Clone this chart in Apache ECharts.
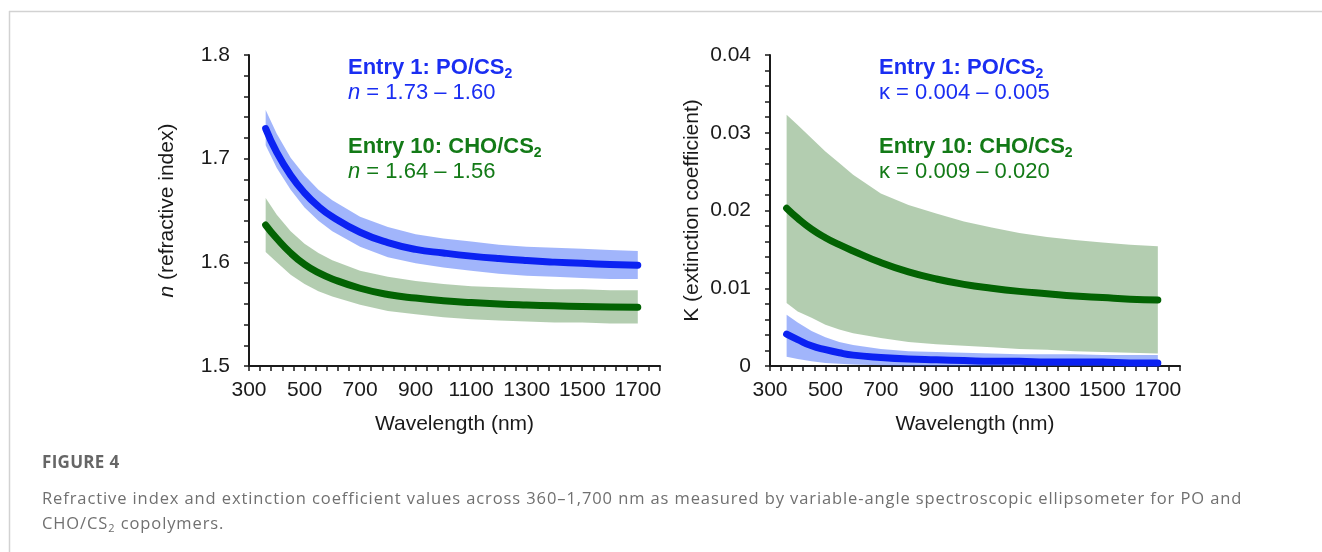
<!DOCTYPE html>
<html>
<head>
<meta charset="utf-8">
<script src="https://cdn.jsdelivr.net/npm/echarts@6/dist/echarts.min.js"></script>
<style>
html, body { margin: 0; padding: 0; background: #fff; }
#chart { position: absolute; left: 0; top: 0; width: 1322px; height: 552px; }
.cap { position: absolute; left: 42px; font-family: "Open Sans", "Noto Sans", sans-serif; color: #707070; white-space: nowrap; }
#fig { top: 450px; font-size: 17px; font-weight: 700; letter-spacing: 0.3px; color: #666; }
#txt { top: 485px; font-size: 16.5px; letter-spacing: 0.9px; line-height: 25px; }
#txt sub { font-size: 11px; vertical-align: -3px; line-height: 0; }
</style>
</head>
<body>
<div id="chart"></div>
<div class="cap" id="fig">FIGURE 4</div>
<div class="cap" id="txt">Refractive index and extinction coefficient values across 360–1,700 nm as measured by variable-angle spectroscopic ellipsometer for PO and<br>CHO/CS<sub>2</sub> copolymers.</div>
<script>
// wavelength grid (nm)
const wavelength = [360, 400, 450, 500, 550, 600, 700, 800, 900, 1000, 1100, 1200, 1300, 1400, 1500, 1600, 1700];

// refractive index n
const nPO     = [1.729, 1.706, 1.684, 1.667, 1.654, 1.644, 1.629, 1.619, 1.6125, 1.609, 1.606, 1.6036, 1.6017, 1.6002, 1.599, 1.598, 1.5972];
const nPOHi   = [1.747, 1.724, 1.701, 1.684, 1.670, 1.660, 1.644, 1.634, 1.627, 1.623, 1.620, 1.617, 1.615, 1.614, 1.613, 1.612, 1.611];
const nPOLo   = [1.713, 1.691, 1.670, 1.653, 1.640, 1.630, 1.615, 1.605, 1.599, 1.595, 1.592, 1.589, 1.587, 1.586, 1.585, 1.584, 1.584];
const nCHO    = [1.636, 1.623, 1.609, 1.598, 1.590, 1.584, 1.575, 1.569, 1.5655, 1.563, 1.5612, 1.5598, 1.5588, 1.558, 1.5574, 1.557, 1.5567];
const nCHOHi  = [1.662, 1.646, 1.630, 1.618, 1.609, 1.602, 1.592, 1.586, 1.582, 1.579, 1.577, 1.576, 1.575, 1.574, 1.574, 1.573, 1.573];
const nCHOLo  = [1.610, 1.600, 1.588, 1.579, 1.572, 1.567, 1.559, 1.553, 1.550, 1.547, 1.545, 1.544, 1.543, 1.542, 1.542, 1.541, 1.541];

// extinction coefficient k
const kPO     = [0.0041, 0.0034, 0.0026, 0.0021, 0.0017, 0.0014, 0.0011, 0.0009, 0.0008, 0.0007, 0.0006, 0.0006, 0.0005, 0.0005, 0.0005, 0.0004, 0.0004];
const kPOHi   = [0.0066, 0.0056, 0.0045, 0.0037, 0.0031, 0.0027, 0.0022, 0.0019, 0.0018, 0.0017, 0.0016, 0.0015, 0.0015, 0.0015, 0.0014, 0.0014, 0.0014];
const kPOLo   = [0.0012, 0.0009, 0.0006, 0.0004, 0.0003, 0.0002, 0.0001, 0.0000, 0.0000, 0.0000, 0.0000, 0.0000, 0.0000, 0.0000, 0.0000, 0.0000, 0.0000];
const kCHO    = [0.0203, 0.0190, 0.0176, 0.0165, 0.0156, 0.0148, 0.0133, 0.0121, 0.0112, 0.0105, 0.0100, 0.0096, 0.0093, 0.0090, 0.0088, 0.0086, 0.0085];
const kCHOHi  = [0.0323, 0.0310, 0.0293, 0.0276, 0.0261, 0.0246, 0.0222, 0.0207, 0.0196, 0.0186, 0.0178, 0.0171, 0.0166, 0.0162, 0.0159, 0.0156, 0.0154];
const kCHOLo  = [0.0081, 0.0070, 0.0062, 0.0053, 0.0047, 0.0042, 0.0036, 0.0031, 0.0028, 0.0026, 0.0024, 0.0022, 0.0021, 0.0019, 0.0018, 0.0017, 0.0016];

const FONT = '"Liberation Sans", Arial, sans-serif';
const INK = '#1a1a1a';
const BLUE = '#0b22f2';
const GREEN = '#036303';
const BLUE_BAND = 'rgba(30,78,245,0.42)';
const GREEN_BAND = 'rgba(20,100,10,0.32)';

const pairs = (ys) => wavelength.map((x, i) => [x, ys[i]]);

// shaded uncertainty band drawn as one polygon through the axis scale
function band(axis, lo, hi, color) {
  return {
    type: 'custom', xAxisIndex: axis, yAxisIndex: axis, z: 1, silent: true,
    data: wavelength.map((x, i) => [x, lo[i], hi[i]]),
    encode: { x: 0, y: [1, 2] },
    renderItem: (params, api) => {
      if (params.dataIndex !== 0) return;
      const top = wavelength.map((x, i) => api.coord([x, hi[i]]));
      const bottom = wavelength.map((x, i) => api.coord([x, lo[i]])).reverse();
      return { type: 'polygon', shape: { points: top.concat(bottom) }, style: { fill: color } };
    }
  };
}

function curve(axis, ys, color) {
  return {
    type: 'line', xAxisIndex: axis, yAxisIndex: axis,
    data: pairs(ys), symbol: 'none', smooth: 0.5, z: 3,
    lineStyle: { color: color, width: 7, cap: 'round', join: 'round' }
  };
}

const axisCommon = {
  axisLine: { show: true, lineStyle: { color: INK, width: 2 } },
  axisTick: { show: true, inside: false, length: 5, lineStyle: { color: INK, width: 1.5 } },
  splitLine: { show: false },
  nameTextStyle: { fontFamily: FONT, fontSize: 21, color: INK }
};

function xAxis(grid) {
  return Object.assign({}, axisCommon, {
    type: 'value', gridIndex: grid, min: 300, max: 1780, interval: 40,
    name: 'Wavelength (nm)', nameLocation: 'middle', nameGap: 48,
    axisLabel: {
      fontFamily: FONT, fontSize: 21, color: INK, margin: 14,
      formatter: (v) => ((Math.round(v) - 300) % 200 === 0 ? String(Math.round(v)) : '')
    }
  });
}

const option = {
  animation: false,
  grid: [
    { left: 249, top: 55, width: 411, height: 311 },
    { left: 770, top: 55, width: 410, height: 311 }
  ],
  xAxis: [xAxis(0), xAxis(1)],
  yAxis: [
    Object.assign({}, axisCommon, {
      type: 'value', gridIndex: 0, min: 1.5, max: 1.8, interval: 0.02,
      name: '{i|n} (refractive index)', nameLocation: 'middle', nameGap: 71,
      nameTextStyle: {
        fontFamily: FONT, fontSize: 21, color: INK,
        rich: { i: { fontFamily: FONT, fontSize: 21, fontStyle: 'italic', color: INK } }
      },
      axisLabel: {
        fontFamily: FONT, fontSize: 21, color: INK, margin: 19,
        formatter: (v) => { const r = Math.round(v * 100); return r % 10 === 0 ? (r / 100).toFixed(1) : ''; }
      }
    }),
    Object.assign({}, axisCommon, {
      type: 'value', gridIndex: 1, min: 0, max: 0.04, interval: 0.002,
      name: 'K (extinction coefficient)', nameLocation: 'middle', nameGap: 67,
      axisLabel: {
        fontFamily: FONT, fontSize: 21, color: INK, margin: 19,
        formatter: (v) => { const r = Math.round(v * 1000); return r % 10 === 0 ? (r === 0 ? '0' : (r / 1000).toFixed(2)) : ''; }
      }
    })
  ],
  series: [
    band(0, nPOLo, nPOHi, BLUE_BAND),
    band(0, nCHOLo, nCHOHi, GREEN_BAND),
    band(1, kCHOLo, kCHOHi, GREEN_BAND),
    band(1, kPOLo, kPOHi, BLUE_BAND),
    curve(0, nPO, BLUE), curve(0, nCHO, GREEN), curve(1, kCHO, GREEN), curve(1, kPO, BLUE)
  ],
  graphic: []
};

// annotations
function note(x, y, text, color, bold) {
  const w = bold ? 'bold' : 'normal';
  return {
    type: 'text', x: x, y: y, z: 10,
    style: {
      text: text, fill: color, verticalAlign: 'middle', align: 'left',
      rich: {
        t: { fontFamily: FONT, fontSize: 22, fontWeight: w, fill: color, lineHeight: 26 },
        i: { fontFamily: FONT, fontSize: 22, fontWeight: w, fontStyle: 'italic', fill: color, lineHeight: 26 },
        s: { fontFamily: FONT, fontSize: 14, fontWeight: w, fill: color, lineHeight: 21, verticalAlign: 'bottom' }
      }
    }
  };
}
const NOTE_BLUE = '#1a2ef2';
const NOTE_GREEN = '#137a17';
option.graphic.push(
  note(348, 68, '{t|Entry 1: PO/CS}{s|2}', NOTE_BLUE, true),
  note(348, 93, '{i|n}{t| = 1.73 \u2013 1.60}', NOTE_BLUE, false),
  note(348, 147, '{t|Entry 10: CHO/CS}{s|2}', NOTE_GREEN, true),
  note(348, 172, '{i|n}{t| = 1.64 \u2013 1.56}', NOTE_GREEN, false),
  note(879, 68, '{t|Entry 1: PO/CS}{s|2}', NOTE_BLUE, true),
  note(879, 93, '{t|\u03ba = 0.004 \u2013 0.005}', NOTE_BLUE, false),
  note(879, 147, '{t|Entry 10: CHO/CS}{s|2}', NOTE_GREEN, true),
  note(879, 172, '{t|\u03ba = 0.009 \u2013 0.020}', NOTE_GREEN, false)
);

// frame lines
option.graphic.push(
  { type: 'line', z: 0, shape: { x1: 9, y1: 11.5, x2: 1322, y2: 11.5 }, style: { stroke: '#d2d2d2', lineWidth: 1.5 } },
  { type: 'line', z: 0, shape: { x1: 9.5, y1: 11, x2: 9.5, y2: 552 }, style: { stroke: '#d2d2d2', lineWidth: 1.5 } }
);

const chart = echarts.init(document.getElementById('chart'));
chart.setOption(option);
</script>
</body>
</html>
